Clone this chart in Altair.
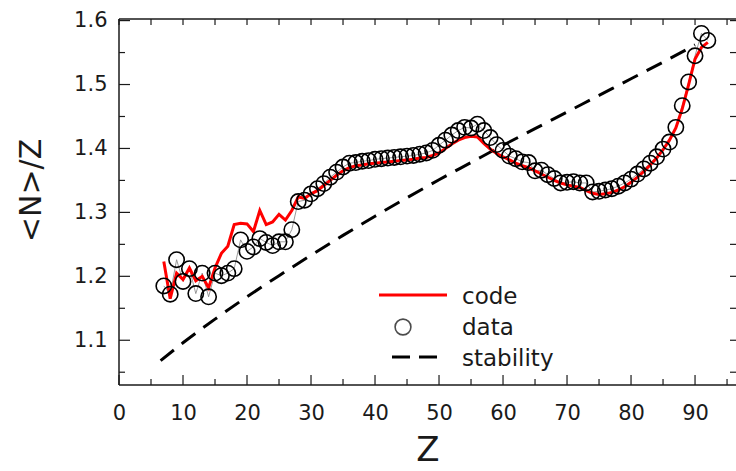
import altair as alt
import pandas as pd

# Measured <N>/Z ratios, one value per element Z = 7 .. 92
Z_DATA = list(range(7, 93))
DATA_NZ = [
    1.185, 1.172, 1.226, 1.192, 1.212, 1.173, 1.205, 1.168, 1.205, 1.201,
    1.205, 1.212, 1.257, 1.239, 1.246, 1.259, 1.253, 1.248, 1.254, 1.254,
    1.273, 1.317, 1.319, 1.329, 1.337, 1.345, 1.355, 1.363, 1.371, 1.377,
    1.378, 1.380, 1.381, 1.383, 1.384, 1.385, 1.386, 1.387, 1.388, 1.389,
    1.391, 1.393, 1.397, 1.405, 1.413, 1.421, 1.428, 1.433, 1.432, 1.438,
    1.428, 1.417, 1.406, 1.397, 1.388, 1.384, 1.379, 1.378, 1.365, 1.366,
    1.359, 1.353, 1.346, 1.347, 1.348, 1.346, 1.346, 1.332, 1.333, 1.335,
    1.337, 1.341, 1.346, 1.352, 1.360, 1.368, 1.377, 1.387, 1.399, 1.410,
    1.433, 1.467, 1.504, 1.545, 1.580, 1.569,
]

# Model ("code") prediction for the same elements
Z_CODE = list(range(7, 93))
CODE_NZ = [
    1.223, 1.165, 1.205, 1.195, 1.213, 1.193, 1.200, 1.182, 1.213, 1.236,
    1.247, 1.281, 1.283, 1.282, 1.270, 1.303, 1.281, 1.285, 1.297, 1.288,
    1.303, 1.324, 1.322, 1.329, 1.334, 1.342, 1.350, 1.358, 1.365, 1.370,
    1.373, 1.374, 1.376, 1.377, 1.378, 1.379, 1.380, 1.381, 1.382, 1.383,
    1.385, 1.386, 1.389, 1.393, 1.400, 1.407, 1.413, 1.417, 1.419, 1.418,
    1.408, 1.399, 1.392, 1.387, 1.382, 1.377, 1.373, 1.370, 1.365, 1.360,
    1.355, 1.350, 1.346, 1.343, 1.341, 1.339, 1.334, 1.330, 1.328, 1.329,
    1.331, 1.335, 1.340, 1.347, 1.355, 1.364, 1.374, 1.385, 1.398, 1.413,
    1.432, 1.462, 1.500, 1.540, 1.558, 1.566,
]

# Line of beta stability
Z_STAB = [6.5, 10, 15, 20, 25, 30, 35, 40, 45, 50, 55, 60, 65, 70, 75, 80, 85, 90]
STAB_NZ = [1.068, 1.096, 1.133, 1.168, 1.201, 1.233, 1.264, 1.294, 1.323,
           1.351, 1.378, 1.405, 1.431, 1.457, 1.483, 1.509, 1.535, 1.562]

X_MAJOR = [0, 10, 20, 30, 40, 50, 60, 70, 80, 90]
X_MINOR = [5, 15, 25, 35, 45, 55, 65, 75, 85, 95]
Y_MAJOR = [1.1, 1.2, 1.3, 1.4, 1.5, 1.6]
Y_MINOR = [1.05, 1.15, 1.25, 1.35, 1.45, 1.55]

W, H = 617, 366
FONT = "DejaVu Sans"
INK = "#1a1a1a"

data_df = pd.DataFrame({"Z": Z_DATA, "nz": DATA_NZ})
code_df = pd.DataFrame({"Z": Z_CODE, "nz": CODE_NZ})
stab_df = pd.DataFrame({"Z": Z_STAB, "nz": STAB_NZ})

xs = alt.Scale(domain=[0, 96.4], nice=False, zero=False)
ys = alt.Scale(domain=[1.03, 1.6025], nice=False, zero=False)

x_axis = alt.Axis(
    values=X_MAJOR, format="d", ticks=False, tickSize=0, domain=False, grid=False,
    labelFont=FONT, labelFontSize=21, labelColor=INK, labelPadding=17, labelFlush=False,
    title="Z", titleFont=FONT, titleFontSize=34, titleFontWeight="normal",
    titleColor=INK, titlePadding=10,
)
y_axis = alt.Axis(
    values=Y_MAJOR, format=".1f", ticks=False, tickSize=0, domain=False, grid=False,
    labelFont=FONT, labelFontSize=21, labelColor=INK, labelPadding=12, labelFlush=False,
    title="<N>/Z", titleFont=FONT, titleFontSize=30, titleFontWeight="normal",
    titleColor=INK, titleX=-88, titleY=171, titleAngle=-90,
    titleAlign="center", titleBaseline="middle",
)

X = alt.X("Z:Q", scale=xs, axis=x_axis)
Y = alt.Y("nz:Q", scale=ys, axis=y_axis)

stability = alt.Chart(stab_df).mark_line(
    color="black", strokeWidth=3, strokeDash=[17, 10], interpolate="monotone"
).encode(x=X, y=Y)

data_link = alt.Chart(data_df).mark_line(color="#808080", strokeWidth=0.8).encode(
    x=alt.X("Z:Q", scale=xs), y=alt.Y("nz:Q", scale=ys)
)

code_line = alt.Chart(code_df).mark_line(color="#ff0000", strokeWidth=3).encode(
    x=alt.X("Z:Q", scale=xs), y=alt.Y("nz:Q", scale=ys)
)

data_pts = alt.Chart(data_df).mark_point(
    shape="circle", filled=False, color="black", size=235, strokeWidth=1.6, opacity=1
).encode(x=alt.X("Z:Q", scale=xs), y=alt.Y("nz:Q", scale=ys))

# Frame (left, bottom, top) and inward ticks
frame = alt.layer(
    alt.Chart().mark_rule(color=INK, strokeWidth=1.5).encode(
        x=alt.value(0), y=alt.value(0), y2=alt.value(H)),
    alt.Chart().mark_rule(color=INK, strokeWidth=1.5).encode(
        x=alt.value(0), x2=alt.value(W), y=alt.value(H)),
    alt.Chart().mark_rule(color=INK, strokeWidth=1.5).encode(
        x=alt.value(0), x2=alt.value(W), y=alt.value(0)),
)

xmaj = pd.DataFrame({"Z": X_MAJOR})
xmin = pd.DataFrame({"Z": X_MINOR})
xall = pd.DataFrame({"Z": sorted(X_MAJOR + X_MINOR)})
ymaj = pd.DataFrame({"nz": Y_MAJOR})
ymin = pd.DataFrame({"nz": Y_MINOR})
yall = pd.DataFrame({"nz": sorted(Y_MAJOR + Y_MINOR)})

tick_kw = dict(color=INK, strokeWidth=1.2)
ticks = alt.layer(
    alt.Chart(xmaj).mark_rule(**tick_kw).encode(
        x=alt.X("Z:Q", scale=xs), y=alt.value(H), y2=alt.value(H - 10)),
    alt.Chart(xmin).mark_rule(**tick_kw).encode(
        x=alt.X("Z:Q", scale=xs), y=alt.value(H), y2=alt.value(H - 6)),
    alt.Chart(xall).mark_rule(**tick_kw).encode(
        x=alt.X("Z:Q", scale=xs), y=alt.value(0), y2=alt.value(6)),
    alt.Chart(ymaj).mark_rule(**tick_kw).encode(
        y=alt.Y("nz:Q", scale=ys), x=alt.value(0), x2=alt.value(11)),
    alt.Chart(ymin).mark_rule(**tick_kw).encode(
        y=alt.Y("nz:Q", scale=ys), x=alt.value(0), x2=alt.value(6)),
    alt.Chart(yall).mark_rule(**tick_kw).encode(
        y=alt.Y("nz:Q", scale=ys), x=alt.value(W - 6), x2=alt.value(W)),
)

# Legend
LEG_X, LEG_TX = 260, 343
legend = alt.layer(
    alt.Chart().mark_rule(color="#ff0000", strokeWidth=3).encode(
        x=alt.value(LEG_X), x2=alt.value(LEG_X + 68), y=alt.value(276)),
    alt.Chart().mark_point(shape="circle", filled=False, color="black",
                           size=250, strokeWidth=1.6).encode(
        x=alt.value(284), y=alt.value(308)),
    alt.Chart().mark_rule(color="black", strokeWidth=3, strokeDash=[18, 9]).encode(
        x=alt.value(273), x2=alt.value(318), y=alt.value(338)),
    alt.Chart().mark_text(font=FONT, fontSize=23, color=INK, align="left",
                          baseline="middle").encode(
        x=alt.value(LEG_TX), y=alt.value(278), text=alt.value("code")),
    alt.Chart().mark_text(font=FONT, fontSize=23, color=INK, align="left",
                          baseline="middle").encode(
        x=alt.value(LEG_TX), y=alt.value(309), text=alt.value("data")),
    alt.Chart().mark_text(font=FONT, fontSize=23, color=INK, align="left",
                          baseline="middle").encode(
        x=alt.value(LEG_TX), y=alt.value(340), text=alt.value("stability")),
)

chart = alt.layer(
    stability, data_link, code_line, data_pts, frame, ticks, legend
).properties(
    width=W, height=H,
    autosize=alt.AutoSizeParams(type="none"),
    padding={"left": 119, "top": 19, "right": 0, "bottom": 86},
    background="white",
).configure_view(strokeWidth=0)

chart.save("out.html", embed_options={"renderer": "svg", "actions": False})
